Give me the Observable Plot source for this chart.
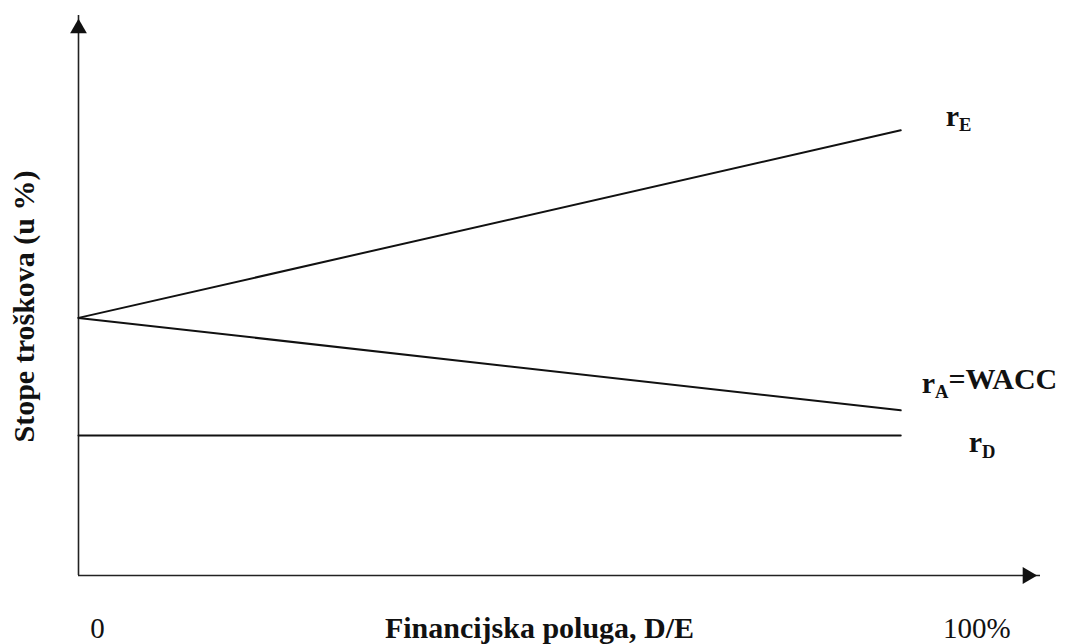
<!DOCTYPE html>
<html>
<head>
<meta charset="utf-8">
<script src="https://cdn.jsdelivr.net/npm/d3@7"></script>
<script src="https://cdn.jsdelivr.net/npm/@observablehq/plot@0.6"></script>
<style>
  html, body { margin: 0; padding: 0; background: #ffffff; }
  #chart { width: 1068px; height: 644px; }
</style>
</head>
<body>
<div id="chart"></div>
<script>
// Data
const leverage = [0, 100];          // D/E, %
const rE = [9.2, 15.9];             // cost of equity
const rA = [9.2, 5.9];              // WACC
const rD = [5.0, 5.0];              // cost of debt
const seriesNames = ["r|E", "r|A|=WACC", "r|D"];
const xTickValues = [0, 100];
const xTickLabels = ["0", "100%"];
const xTitle = "Financijska poluga, D/E";
const yTitle = "Stope troškova (u %)";

const series = [rE, rA, rD];
const rows = series.flatMap((vals, i) =>
  leverage.map((x, j) => ({series: seriesNames[i], x, y: vals[j]}))
);
const ends = series.map((vals, i) => ({series: seriesNames[i], x: leverage[leverage.length - 1], y: vals[vals.length - 1]}));

const font = "'Liberation Serif', 'Times New Roman', serif";

const plot = Plot.plot({
  width: 1068,
  height: 644,
  marginLeft: 78,
  marginRight: 28,
  marginTop: 15,
  marginBottom: 69,
  x: {domain: [0, 117], axis: null},
  y: {domain: [0, 20], axis: null},
  style: {fontFamily: font, background: "#ffffff", color: "#111"},
  marks: [
    // axes
    Plot.ruleX([0], {stroke: "#222", strokeWidth: 1.6}),
    Plot.ruleY([0], {stroke: "#222", strokeWidth: 1.6}),
    Plot.dot([0], {frameAnchor: "top-left", symbol: "triangle2", r: 8, fill: "#111", stroke: "none", dy: 13}),
    Plot.dot([0], {frameAnchor: "bottom-right", symbol: "triangle2", r: 8, fill: "#111", stroke: "none", rotate: 90, dx: -13}),
    // lines
    Plot.line(rows, {x: "x", y: "y", z: "series", stroke: "#111", strokeWidth: 2}),
    // end labels
    Plot.text(ends.slice(0, 1), {x: "x", y: "y", text: "series", textAnchor: "start", dx: 45, dy: -14, fontSize: 30, fontWeight: "bold", fill: "#111", className: "sublabel"}),
    Plot.text(ends.slice(1, 2), {x: "x", y: "y", text: "series", textAnchor: "start", dx: 21, dy: -27, fontSize: 30, fontWeight: "bold", fill: "#111", className: "sublabel"}),
    Plot.text(ends.slice(2, 3), {x: "x", y: "y", text: "series", textAnchor: "start", dx: 68, dy: 7, fontSize: 30, fontWeight: "bold", fill: "#111", className: "sublabel"}),
    // x tick labels
    Plot.text(xTickValues, {x: d => d, text: (d, i) => xTickLabels[i], frameAnchor: "bottom", lineAnchor: "bottom", dy: 62, fontSize: 29, fill: "#111", className: "xticks"}),
    // x title
    Plot.text([xTitle], {text: d => d, frameAnchor: "bottom", lineAnchor: "bottom", dy: 62, dx: -20, fontSize: 30, fontWeight: "bold", fill: "#111"}),
    // y title
    Plot.text([yTitle], {text: d => d, frameAnchor: "left", textAnchor: "middle", rotate: -90, dx: -54, dy: 11, fontSize: 30, fontWeight: "bold", fill: "#111"})
  ]
});

document.getElementById("chart").appendChild(plot);

// shift tick labels to their printed spots
const tickShift = [19, 76];
d3.select(plot).selectAll("g.xticks text").each(function (d, i) {
  const t = d3.select(this).attr("transform") || "";
  d3.select(this).attr("transform", `translate(${tickShift[i]},0) ${t}`);
});

// subscripts in labels
d3.select(plot).selectAll("g.sublabel text").each(function () {
  const parts = this.textContent.split("|");
  const el = d3.select(this);
  el.text(null);
  el.append("tspan").text(parts[0]);
  el.append("tspan").attr("font-size", "0.62em").attr("dy", "0.3em").text(parts[1]);
  if (parts[2]) el.append("tspan").attr("dy", "-0.3em").text(parts[2]);
});
</script>
</body>
</html>
